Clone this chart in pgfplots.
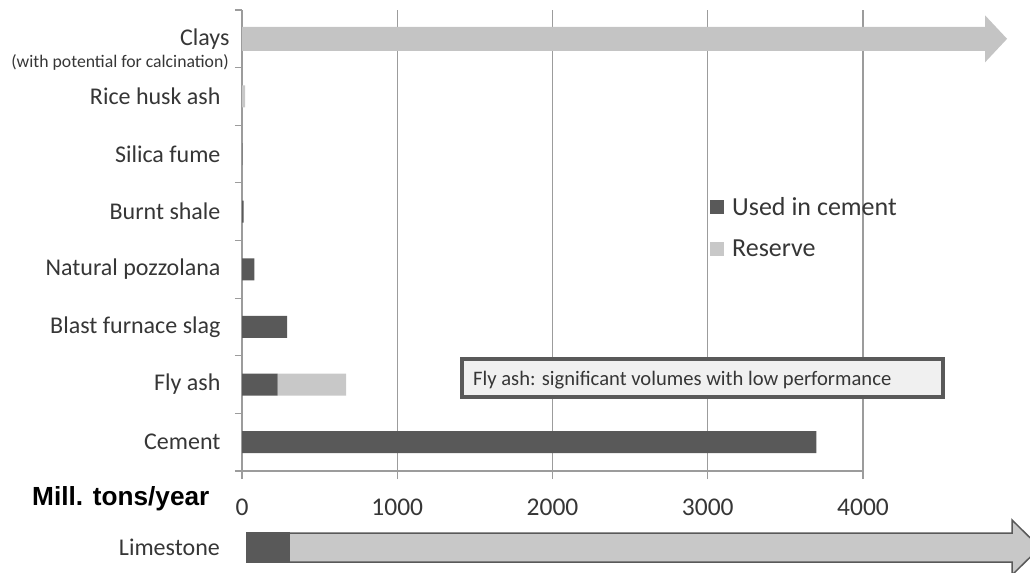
\documentclass[border=0pt]{standalone}
\usepackage{fontspec}
\setmainfont{Carlito}
\newfontfamily\arialfont{Liberation Sans}
\usepackage{pgfplots}
\pgfplotsset{compat=1.18}
\definecolor{dk}{HTML}{595959}
\definecolor{lt}{HTML}{C8C8C8}
\definecolor{clay}{HTML}{C4C4C4}
\definecolor{txt}{HTML}{363636}
\definecolor{gridc}{HTML}{9C9C9C}
\definecolor{boxfill}{HTML}{F0F0F0}
\begin{document}
\begin{tikzpicture}
\path[use as bounding box, clip] (0bp,0bp) rectangle (1030bp,-573bp);
\begin{axis}[
  at={(242bp,-471bp)}, anchor=south west,
  scale only axis, width=621bp, height=461bp,
  xbar stacked, bar width=22bp,
  xmin=0, xmax=4000, ymin=-0.5, ymax=7.5,
  clip=false,
  axis x line*=bottom, axis y line*=left,
  axis line style={draw=gridc, line width=1.2bp, -},
  xtick={0,1000,2000,3000,4000},
  xtick align=outside, ytick align=outside,
  major tick length=8bp, minor tick length=7bp,
  xtick style={draw=gridc, line width=1.2bp},
  ytick style={draw=none},
  minor ytick={-0.5,0.5,...,7.5},
  minor y tick style={draw=gridc, line width=1.2bp},
  xmajorgrids, major grid style={draw=gridc, line width=1.2bp},
  /pgf/number format/assume math mode=true,
  /pgf/number format/1000 sep={},
  xticklabel style={font=\fontsize{25.5bp}{28bp}\selectfont, text=txt, yshift=-16bp},
  ytick={0,1,2,3,4,5,6,7},
  yticklabels={Cement, Fly ash, Blast furnace slag, Natural pozzolana, Burnt shale, Silica fume, Rice husk ash, {Clays\kern-9bp}},
  yticklabel style={font=\fontsize{24bp}{28bp}\selectfont, text=txt, anchor=east, xshift=-10bp},
  legend style={at={(axis description cs:0.7536,0.5282)}, anchor=west, draw=none, fill=none,
    font=\fontsize{26bp}{30bp}\selectfont, text=txt, row sep=23bp, column sep=8bp, inner sep=0pt,
    nodes={inner sep=0pt}},
  legend cell align=left,
  legend image code/.code={\fill[#1] (0bp,-7bp) rectangle (14bp,7bp);},
]
\addplot[fill=dk, draw=none] coordinates {(3700,0) (230,1) (290,2) (80,3) (10,4) (2,5) (0,6) (0,7)};
\addplot[fill=lt, draw=none] coordinates {(0,0) (440,1) (0,2) (0,3) (0,4) (0,5) (20,6) (0,7)};
\legend{Used in cement, Reserve}
% Clays arrow
\fill[clay] (axis cs:0,6.792) -- (axis cs:4786,6.792) -- (axis cs:4786,6.592) -- (axis cs:4928,7) -- (axis cs:4786,7.408) -- (axis cs:4786,7.208) -- (axis cs:0,7.208) -- cycle;
\end{axis}
% Limestone arrow (below the axis)
\draw[draw=dk, line width=1.5bp, fill=lt] (247bp,-533bp) -- (1012bp,-533bp) -- (1012bp,-520bp) -- (1040bp,-547.5bp) -- (1012bp,-575bp) -- (1012bp,-562bp) -- (247bp,-562bp) -- cycle;
\filldraw[draw=dk, fill=dk, line width=1.5bp] (247bp,-533bp) rectangle (289bp,-562bp);
\node[anchor=east, inner sep=0pt, font=\fontsize{17.7bp}{20bp}\selectfont, text=txt] at (229bp,-62bp) {(with potential for calcination)};
\node[anchor=base east, inner sep=0pt, font=\fontsize{24bp}{28bp}\selectfont, text=txt] at (220bp,-555bp) {Limestone};
\node[anchor=base west, inner sep=0pt, font=\arialfont\bfseries\fontsize{26.2bp}{30bp}\selectfont, text=black] at (32bp,-505bp) {Mill. tons/year};
\draw[draw=dk, line width=3.5bp, fill=boxfill] (462bp,-359bp) rectangle (943bp,-397bp);
\node[anchor=base west, inner sep=0pt, font=\fontsize{20.6bp}{24bp}\selectfont, text=txt] at (473bp,-385bp) {Fly ash: significant volumes with low performance};
\end{tikzpicture}
\end{document}
